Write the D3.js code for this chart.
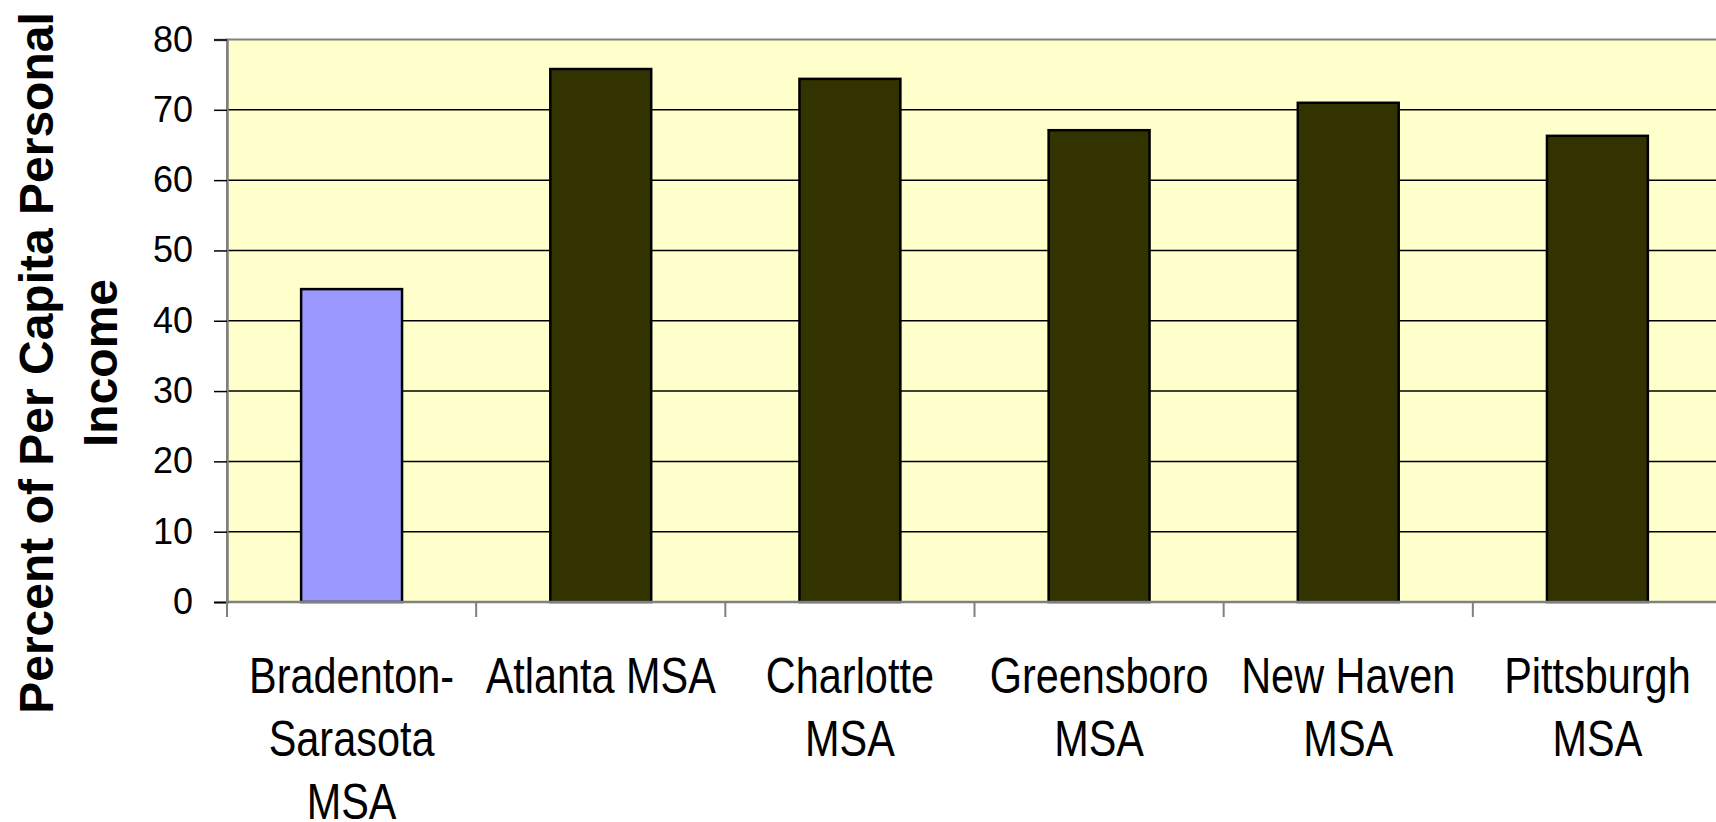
<!DOCTYPE html>
<html>
<head>
<meta charset="utf-8">
<script src="https://cdn.jsdelivr.net/npm/d3@7"></script>
<style>
  html, body { margin: 0; padding: 0; background: #fff; }
  svg { display: block; }
</style>
</head>
<body>
<svg id="chart" width="1716" height="822"></svg>
<script>
// --- data ---
const categories = ["Bradenton-Sarasota MSA", "Atlanta MSA", "Charlotte MSA", "Greensboro MSA", "New Haven MSA", "Pittsburgh MSA"];
const labelLines = [["Bradenton-", "Sarasota", "MSA"], ["Atlanta MSA"], ["Charlotte", "MSA"], ["Greensboro", "MSA"], ["New Haven", "MSA"], ["Pittsburgh", "MSA"]];
const values = [44.5, 75.8, 74.4, 67.1, 71.0, 66.3];
const yTicks = [0, 10, 20, 30, 40, 50, 60, 70, 80];
const titleLines = ["Percent of Per Capita Personal", "Income"];

(function () {
  const svg = d3.select("#chart");
  const plot = { left: 227, top: 39.5, right: 1722, bottom: 602 };

  // 1) scales
  const x = d3.scaleBand()
    .domain(categories)
    .range([plot.left, plot.right])
    .paddingInner(0.595)
    .paddingOuter(0.2975);

  const y = d3.scaleLinear()
    .domain([0, 80])
    .range([plot.bottom, plot.top]);

  // 2) plot background
  svg.append("rect")
    .attr("x", plot.left).attr("y", plot.top)
    .attr("width", plot.right - plot.left)
    .attr("height", plot.bottom - plot.top)
    .attr("fill", "#FFFFCC")
    .attr("stroke", "#808080")
    .attr("stroke-width", 2);

  // 3) gridlines
  svg.append("g")
    .selectAll("line")
    .data(yTicks.filter(d => d > 0 && d < 80))
    .join("line")
    .attr("x1", plot.left).attr("x2", plot.right)
    .attr("y1", d => y(d)).attr("y2", d => y(d))
    .attr("stroke", "#000").attr("stroke-width", 1.5);

  // 4) bars
  svg.append("g")
    .selectAll("rect")
    .data(values)
    .join("rect")
    .attr("x", (d, i) => x(categories[i]))
    .attr("y", d => y(d))
    .attr("width", x.bandwidth())
    .attr("height", d => y(0) - y(d))
    .attr("fill", (d, i) => i === 0 ? "#9999FF" : "#333300")
    .attr("stroke", "#000")
    .attr("stroke-width", 2.5);

  // 5) y axis
  const yAxis = d3.axisLeft(y).tickValues(yTicks).tickSize(13).tickPadding(21);
  const gy = svg.append("g")
    .attr("transform", `translate(${plot.left},0)`)
    .call(yAxis);
  gy.select(".domain").attr("stroke", "#808080").attr("stroke-width", 2.5);
  gy.selectAll(".tick line").attr("stroke", "#000").attr("stroke-width", 1.5);
  gy.selectAll(".tick text")
    .attr("fill", "#000")
    .style("font-family", "'Liberation Sans', Arial, sans-serif")
    .style("font-size", "36px");

  // 6) x axis (ticks at band boundaries)
  const step = x.step();
  const bounds = d3.range(categories.length + 1).map(i => plot.left + i * step);
  svg.append("line")
    .attr("x1", plot.left).attr("x2", plot.right)
    .attr("y1", plot.bottom).attr("y2", plot.bottom)
    .attr("stroke", "#808080").attr("stroke-width", 2.5);
  svg.append("g")
    .selectAll("line")
    .data(bounds)
    .join("line")
    .attr("x1", d => d).attr("x2", d => d)
    .attr("y1", plot.bottom).attr("y2", plot.bottom + 15)
    .attr("stroke", "#808080").attr("stroke-width", 2);

  // category labels, condensed face
  const labels = svg.append("g")
    .style("font-family", "'Liberation Sans Narrow', 'Arial Narrow', 'Liberation Sans', sans-serif")
    .style("font-size", "50px")
    .attr("fill", "#000")
    .attr("text-anchor", "middle");

  // check whether narrow face exists; if not, squeeze the regular one
  const probe = svg.append("text").text("Bradenton-")
    .style("font-family", "'Liberation Sans Narrow', 'Arial Narrow', 'Liberation Sans', sans-serif")
    .style("font-size", "50px");
  const probeW = probe.node().getComputedTextLength();
  probe.remove();
  const squeeze = probeW > 225 ? 205 / probeW : 1;

  categories.forEach((c, i) => {
    const cx = x(c) + x.bandwidth() / 2;
    const t = labels.append("text")
      .attr("transform", `translate(${cx},693) scale(${squeeze},1)`);
    labelLines[i].forEach((line, j) => {
      t.append("tspan").attr("x", 0).attr("y", j * 63).text(line);
    });
  });

  // 7) y title
  const title = svg.append("text")
    .attr("transform", "translate(53,363) rotate(-90)")
    .attr("text-anchor", "middle")
    .style("font-family", "'Liberation Sans', Arial, sans-serif")
    .style("font-weight", "bold")
    .style("font-size", "48px")
    .attr("fill", "#000");
  titleLines.forEach((line, j) => {
    title.append("tspan").attr("x", 0).attr("y", j * 64).text(line);
  });
})();
</script>
</body>
</html>
